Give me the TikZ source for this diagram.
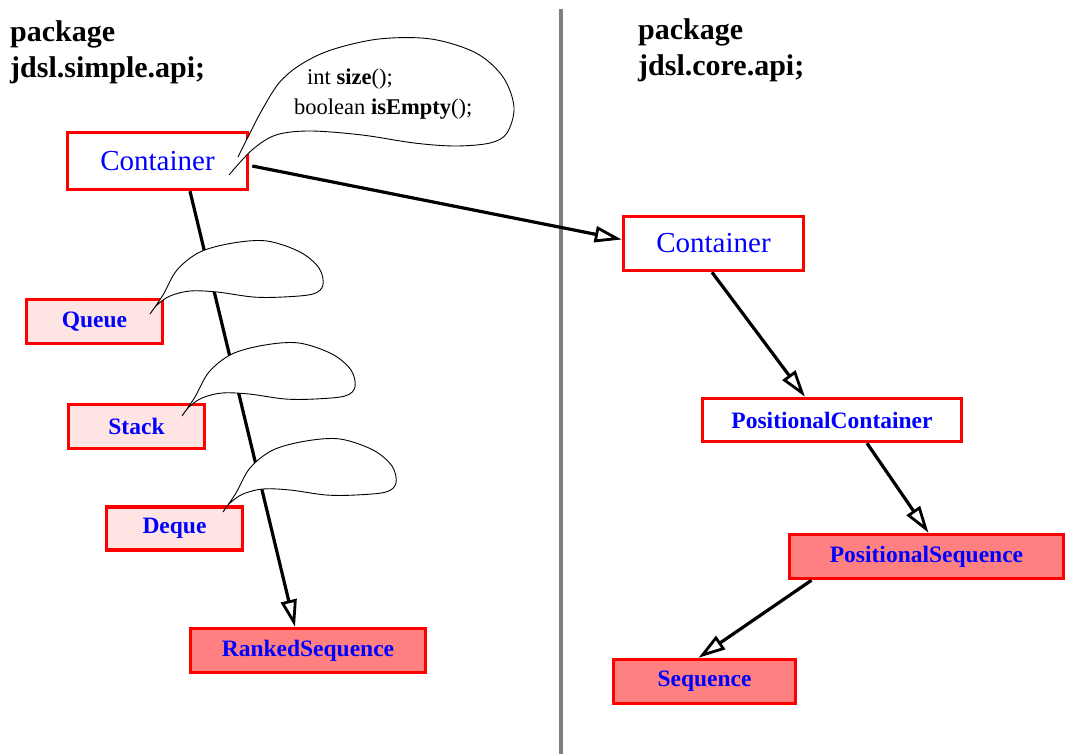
\documentclass[tikz,border=0pt]{standalone}
\usepackage{fontspec}
\setmainfont{Liberation Serif}
\usetikzlibrary{arrows.meta}
\definecolor{lightpink}{RGB}{255,228,228}
\definecolor{salmon}{RGB}{255,128,128}
\definecolor{divgray}{RGB}{128,128,128}
\tikzset{
  box/.style={draw=red, line width=3.5pt, inner sep=0pt, text=blue,
    font=\bfseries\fontsize{23.5}{27}\selectfont},
  bigbox/.style={box, fill=white, font=\fontsize{29}{34}\selectfont},
  plainbox/.style={box, fill=white},
  pinkbox/.style={box, fill=lightpink},
  redbox/.style={box, fill=salmon},
  heading/.style={anchor=base west, align=left, inner sep=0pt,
    font=\bfseries\fontsize{30}{36}\selectfont},
  note/.style={anchor=base west, inner sep=0pt, font=\fontsize{22.5}{27}\selectfont},
  inherit/.style={line width=3.2pt, -{Triangle[open, length=27pt 0 0, width=16pt 0 0, line width=2.8pt, fill=white]}},
  callout/.style={draw=black, line width=0.9pt, fill=white},
}
\begin{document}
\begin{tikzpicture}[x=1pt, y=-1pt]
\useasboundingbox (0,0) rectangle (1069,754);

% divider
\draw[divgray, line width=4pt] (561,9) -- (561,754);

% headings
\node[heading] (hl) at (10,78) {package\\jdsl.simple.api;};
\node[heading] (hr) at (638,76) {package\\jdsl.core.api;};

% boxes
\node[bigbox, minimum width=180pt, minimum height=57pt] (cL) at (157.5,161) {Container};
\node[pinkbox, minimum width=136pt, minimum height=44pt] (queue) at (94.5,321.5) {Queue};
\node[pinkbox, minimum width=136pt, minimum height=44pt] (stack) at (136.5,426.5) {Stack};
\node[pinkbox, minimum width=136pt, minimum height=43pt] (deque) at (174.5,528.5) {Deque};
\node[redbox, minimum width=235pt, minimum height=44pt] (ranked) at (308,650.5) {RankedSequence};

\node[bigbox, minimum width=180pt, minimum height=54pt] (cR) at (713.5,243.5) {Container};
\node[plainbox, minimum width=259pt, minimum height=43pt] (pc) at (832,420) {PositionalContainer};
\node[redbox, minimum width=274pt, minimum height=44pt] (ps) at (926.5,556.5) {PositionalSequence};
\node[redbox, minimum width=182pt, minimum height=44pt] (seq) at (704.5,681.5) {Sequence};

% connectors
\draw[inherit] ([xshift=32.5pt]cL.south) -- ([xshift=-13pt]ranked.north);
\draw[inherit] ([xshift=3pt,yshift=-5pt]cL.east) -- ([yshift=4pt]cR.west);
\draw[inherit] ([xshift=-1.5pt]cR.south) -- ([xshift=-27pt]pc.north);
\draw[inherit] ([xshift=35pt]pc.south) -- ([xshift=2pt]ps.north);
\draw[inherit] ([xshift=-115pt]ps.south) -- ([xshift=-6pt]seq.north);

% callouts for Queue, Stack, Deque
\foreach \dx/\dy in {0/0, 32/102, 73/198}{
  \begin{scope}[shift={(\dx,\dy)}]
    \draw[callout] plot[smooth, tension=0.55] coordinates {
      (150,314) (163,295) (177,270) (200,252) (233,243) (267,241)
      (300,252) (319,268) (323,285) (313,294) (283,297) (253,297)
      (217,292) (190,291) (170,296) (157,305) (150,314)};
  \end{scope}
}

% callout for Container
\draw[callout] plot[smooth, tension=0.55] coordinates {
  (238,157) (248,137) (262,110) (279,83) (300,65) (331,50) (379,39)
  (431,39) (476,53) (503,77) (514,107) (507,133) (490,143) (455,146)
  (414,143) (362,135) (310,131) (276,135) (252,150) (229,175)};
\node[note] (n1) at (307,85) {int \textbf{size}();};
\node[note] (n2) at (294,115) {boolean \textbf{isEmpty}();};
\end{tikzpicture}
\end{document}
